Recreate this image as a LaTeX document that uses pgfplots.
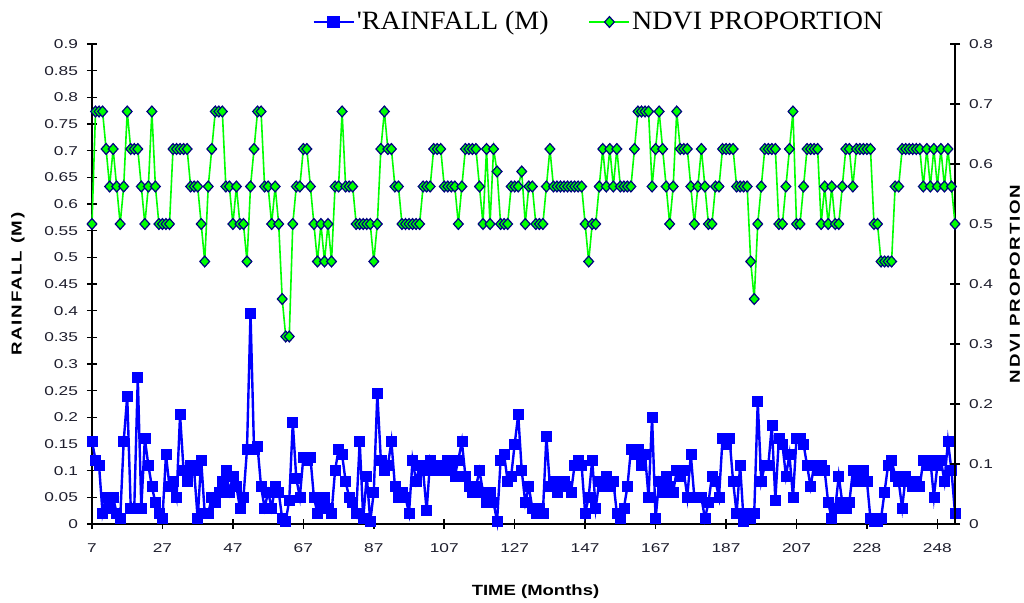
\documentclass[border=0pt]{standalone}
\usepackage{fontspec}
\usepackage{pgfplots}
\usepackage{pgfplotstable}
\pgfplotsset{compat=1.18}
\newfontfamily\tickfont[FakeStretch=1.35]{Liberation Sans}
\newfontfamily\titlefont[FakeStretch=1.25]{Liberation Sans}
\newfontfamily\ytitlefont[FakeStretch=1.3,LetterSpace=12]{Liberation Sans}
\newfontfamily\legfont[FakeStretch=1.06]{Liberation Serif}
\definecolor{rainblue}{RGB}{0,0,255}
\definecolor{ndvigreen}{RGB}{0,255,0}
\definecolor{navy}{RGB}{0,0,128}
\definecolor{tickgray}{RGB}{30,30,45}

\pgfplotstableread{
m r
7 0.155
8 0.12
9 0.11
10 0.02
11 0.05
12 0.03
13 0.05
14 0.02
15 0.01
16 0.155
17 0.24
18 0.03
19 0.03
20 0.275
21 0.03
22 0.16
23 0.11
24 0.07
25 0.04
26 0.02
27 0.01
28 0.13
29 0.07
30 0.08
31 0.05
32 0.205
33 0.10
34 0.08
35 0.11
36 0.10
37 0.01
38 0.12
39 0.02
40 0.02
41 0.05
42 0.04
43 0.06
44 0.08
45 0.10
46 0.06
47 0.09
48 0.07
49 0.03
50 0.05
51 0.14
52 0.395
53 0.14
54 0.145
55 0.07
56 0.03
57 0.06
58 0.03
59 0.07
60 0.06
61 0.01
62 0.005
63 0.045
64 0.19
65 0.085
66 0.05
67 0.125
68 0.12
69 0.125
70 0.05
71 0.02
72 0.03
73 0.05
74 0.03
75 0.02
76 0.10
77 0.14
78 0.13
79 0.08
80 0.05
81 0.04
82 0.02
83 0.155
84 0.01
85 0.09
86 0.005
87 0.06
88 0.245
89 0.12
90 0.10
91 0.11
92 0.155
93 0.07
94 0.05
95 0.06
96 0.05
97 0.02
98 0.12
99 0.08
100 0.11
101 0.10
102 0.025
103 0.12
104 0.10
105 0.11
106 0.10
107 0.11
108 0.12
109 0.10
110 0.09
111 0.12
112 0.155
113 0.09
114 0.07
115 0.06
116 0.07
117 0.10
118 0.06
119 0.04
120 0.06
121 0.04
122 0.005
123 0.12
124 0.13
125 0.08
126 0.09
127 0.15
128 0.205
129 0.10
130 0.04
131 0.07
132 0.03
133 0.02
134 0.03
135 0.02
136 0.165
137 0.07
138 0.08
139 0.06
140 0.07
141 0.08
142 0.07
143 0.06
144 0.11
145 0.12
146 0.11
147 0.02
148 0.05
149 0.12
150 0.03
151 0.08
152 0.07
153 0.09
154 0.07
155 0.08
156 0.02
157 0.01
158 0.03
159 0.07
160 0.14
161 0.13
162 0.14
163 0.11
164 0.13
165 0.05
166 0.20
167 0.01
168 0.08
169 0.06
170 0.09
171 0.07
172 0.06
173 0.10
174 0.09
175 0.10
176 0.05
177 0.13
178 0.05
179 0.05
180 0.05
181 0.01
182 0.04
183 0.09
184 0.08
185 0.05
186 0.16
187 0.15
188 0.16
189 0.08
190 0.02
191 0.11
192 0.005
193 0.02
194 0.01
195 0.02
196 0.23
197 0.08
198 0.11
199 0.11
200 0.185
201 0.045
202 0.16
203 0.15
204 0.09
205 0.13
206 0.05
207 0.16
208 0.16
209 0.15
210 0.11
211 0.07
212 0.11
213 0.10
214 0.11
215 0.10
216 0.04
217 0.01
218 0.03
219 0.09
220 0.04
221 0.03
222 0.04
223 0.10
224 0.08
225 0.09
226 0.10
227 0.08
228 0.01
229 0.005
230 0.005
231 0.01
232 0.06
233 0.11
234 0.12
235 0.09
236 0.08
237 0.03
238 0.09
239 0.08
240 0.07
241 0.08
242 0.07
243 0.12
244 0.11
245 0.12
246 0.05
247 0.11
248 0.12
249 0.08
250 0.155
251 0.10
252 0.02
}\raintable

\pgfplotstableread{
m n
7 0.5
8 0.6875
9 0.6875
10 0.6875
11 0.625
12 0.5625
13 0.625
14 0.5625
15 0.5
16 0.5625
17 0.6875
18 0.625
19 0.625
20 0.625
21 0.5625
22 0.5
23 0.5625
24 0.6875
25 0.5625
26 0.5
27 0.5
28 0.5
29 0.5
30 0.625
31 0.625
32 0.625
33 0.625
34 0.625
35 0.5625
36 0.5625
37 0.5625
38 0.5
39 0.4375
40 0.5625
41 0.625
42 0.6875
43 0.6875
44 0.6875
45 0.5625
46 0.5625
47 0.5
48 0.5625
49 0.5
50 0.5
51 0.4375
52 0.5625
53 0.625
54 0.6875
55 0.6875
56 0.5625
57 0.5625
58 0.5
59 0.5625
60 0.5
61 0.375
62 0.3125
63 0.3125
64 0.5
65 0.5625
66 0.5625
67 0.625
68 0.625
69 0.5625
70 0.5
71 0.4375
72 0.5
73 0.4375
74 0.5
75 0.4375
76 0.5625
77 0.5625
78 0.6875
79 0.5625
80 0.5625
81 0.5625
82 0.5
83 0.5
84 0.5
85 0.5
86 0.5
87 0.4375
88 0.5
89 0.625
90 0.6875
91 0.625
92 0.625
93 0.5625
94 0.5625
95 0.5
96 0.5
97 0.5
98 0.5
99 0.5
100 0.5
101 0.5625
102 0.5625
103 0.5625
104 0.625
105 0.625
106 0.625
107 0.5625
108 0.5625
109 0.5625
110 0.5625
111 0.5
112 0.5625
113 0.625
114 0.625
115 0.625
116 0.625
117 0.5625
118 0.5
119 0.625
120 0.5
121 0.625
122 0.5875
123 0.5
124 0.5
125 0.5
126 0.5625
127 0.5625
128 0.5625
129 0.5875
130 0.5
131 0.5625
132 0.5625
133 0.5
134 0.5
135 0.5
136 0.5625
137 0.625
138 0.5625
139 0.5625
140 0.5625
141 0.5625
142 0.5625
143 0.5625
144 0.5625
145 0.5625
146 0.5625
147 0.5
148 0.4375
149 0.5
150 0.5
151 0.5625
152 0.625
153 0.5625
154 0.625
155 0.5625
156 0.625
157 0.5625
158 0.5625
159 0.5625
160 0.5625
161 0.625
162 0.6875
163 0.6875
164 0.6875
165 0.6875
166 0.5625
167 0.625
168 0.6875
169 0.625
170 0.5625
171 0.5
172 0.5625
173 0.6875
174 0.625
175 0.625
176 0.625
177 0.5625
178 0.5
179 0.5625
180 0.625
181 0.5625
182 0.5
183 0.5
184 0.5625
185 0.5625
186 0.625
187 0.625
188 0.625
189 0.625
190 0.5625
191 0.5625
192 0.5625
193 0.5625
194 0.4375
195 0.375
196 0.5
197 0.5625
198 0.625
199 0.625
200 0.625
201 0.625
202 0.5
203 0.5
204 0.5625
205 0.625
206 0.6875
207 0.5
208 0.5
209 0.5625
210 0.625
211 0.625
212 0.625
213 0.625
214 0.5
215 0.5625
216 0.5
217 0.5625
218 0.5
219 0.5
220 0.5625
221 0.625
222 0.625
223 0.5625
224 0.625
225 0.625
226 0.625
227 0.625
228 0.625
229 0.5
230 0.5
231 0.4375
232 0.4375
233 0.4375
234 0.4375
235 0.5625
236 0.5625
237 0.625
238 0.625
239 0.625
240 0.625
241 0.625
242 0.625
243 0.5625
244 0.625
245 0.5625
246 0.625
247 0.5625
248 0.625
249 0.5625
250 0.625
251 0.5625
252 0.5
}\ndvitable

\pgfplotsset{
  common/.style={
    width=431.5pt, height=240pt, scale only axis,
    xmin=7, xmax=252,
    clip=false,
    tick align=center,
    major tick length=5pt,
    axis line style={line width=1pt, black},
    tick style={line width=0.8pt, black},
    ticklabel style={font=\tickfont\fontsize{6.4}{7}\selectfont, text=tickgray},
  },
}

\begin{document}
\begin{tikzpicture}
\useasboundingbox (-46pt,-39.5pt) rectangle (466pt,262pt);
\begin{axis}[
  common,
  axis x line*=bottom,
  axis y line*=left,
  ymin=0, ymax=0.9,
  ytick={0,0.05,0.1,0.15,0.2,0.25,0.3,0.35,0.4,0.45,0.5,0.55,0.6,0.65,0.7,0.75,0.8,0.85,0.9},
  yticklabels={0,0.05,0.1,0.15,0.2,0.25,0.3,0.35,0.4,0.45,0.5,0.55,0.6,0.65,0.7,0.75,0.8,0.85,0.9},
  xtick={7,27,47,67,87,107,127,147,167,187,207,227,247},
  xticklabels={7,27,47,67,87,107,127,147,167,187,207,228,248},
  xticklabel style={yshift=-4pt},
  yticklabel style={xshift=-1pt},
  xlabel={\titlefont\bfseries\fontsize{7.4}{8}\selectfont TIME (Months)},
  ylabel={\ytitlefont\bfseries\fontsize{7.2}{8}\selectfont RAINFALL (M)},
  every axis x label/.style={at={(rel axis cs:0.5,0)}, anchor=center, xshift=6pt, yshift=-34pt},
  every axis y label/.style={at={(rel axis cs:0,0.5)}, anchor=center, rotate=90, yshift=37pt},
]
\addplot[rainblue, line width=1.2pt, mark=square*, mark size=2.5pt,
  mark options={fill=rainblue, draw=rainblue, line width=0.3pt}] table[x=m,y=r]{\raintable};
\end{axis}
\begin{axis}[
  common,
  axis x line=none,
  axis y line*=right,
  ymin=0, ymax=0.8,
  ytick={0,0.1,0.2,0.3,0.4,0.5,0.6,0.7,0.8},
  yticklabels={0,0.1,0.2,0.3,0.4,0.5,0.6,0.7,0.8},
  yticklabel style={xshift=1pt},
  ylabel={\ytitlefont\bfseries\fontsize{7.2}{8}\selectfont NDVI PROPORTION},
  every axis y label/.style={at={(rel axis cs:1,0.5)}, anchor=center, rotate=90, yshift=-30pt},
  legend columns=2,
  legend style={draw=none, fill=none, at={(rel axis cs:0,1)}, anchor=west,
    xshift=110pt, yshift=11pt, inner sep=0pt,
    font=\legfont\fontsize{13.2}{14}\selectfont,
    nodes={inner sep=1pt},
    /tikz/every even column/.append style={column sep=19pt}},
  legend image code/.code={\draw[mark repeat=2, mark phase=2, #1] plot coordinates {(0pt,0pt) (10pt,0pt) (20pt,0pt)};},
]
\addlegendimage{rainblue, line width=1.2pt, mark=square*, mark size=2.5pt, mark options={fill=rainblue, draw=rainblue}}
\addlegendentry{'RAINFALL (M)}
\addplot[ndvigreen, line width=0.8pt, mark=diamond*, mark size=2.7pt,
  mark options={fill=ndvigreen, draw=navy, line width=0.6pt, xscale=1.2}] table[x=m,y=n]{\ndvitable};
\addlegendentry{NDVI PROPORTION}
\end{axis}
\end{tikzpicture}
\end{document}
